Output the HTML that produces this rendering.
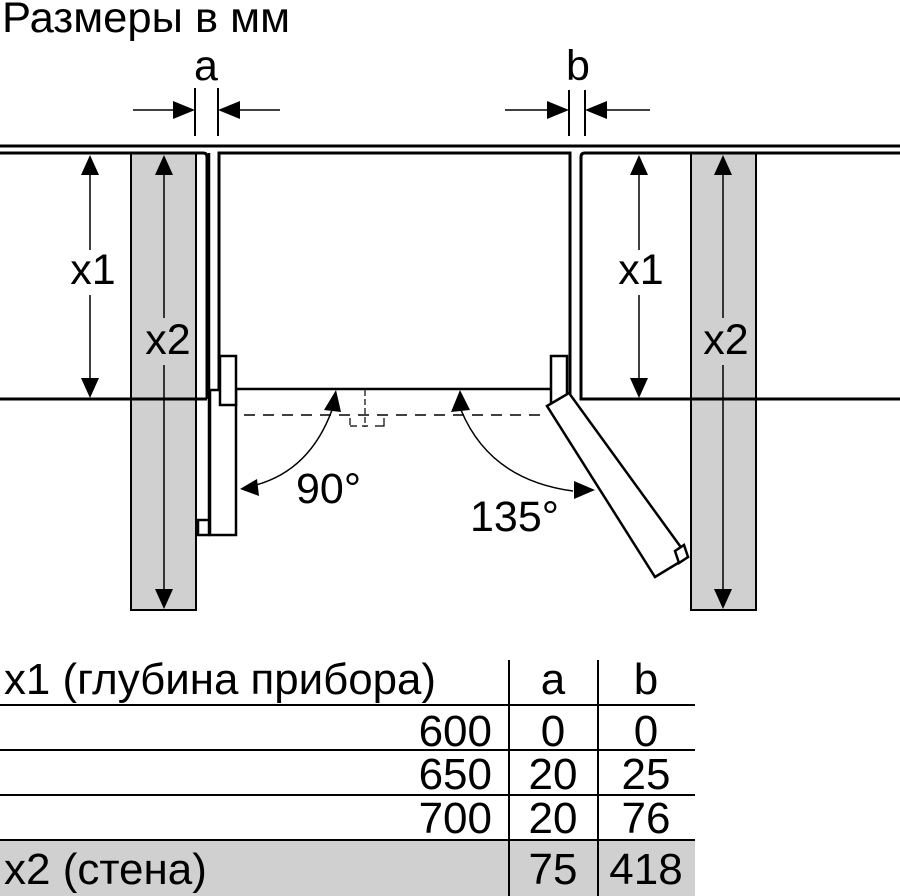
<!DOCTYPE html>
<html><head><meta charset="utf-8"><style>
html,body{margin:0;padding:0;background:#fff;}
svg{display:block;}
text{font-family:"Liberation Sans",Arial,sans-serif;fill:#000;}
</style></head><body>
<svg width="900" height="896" viewBox="0 0 900 896" xmlns="http://www.w3.org/2000/svg">
<text x="2" y="32" font-size="43" textLength="288" lengthAdjust="spacingAndGlyphs">Размеры в мм</text>
<text x="206" y="80" font-size="43" text-anchor="middle">a</text>
<text x="578" y="80" font-size="43" text-anchor="middle">b</text>

<g stroke="#000" stroke-width="2" fill="none">
<line x1="195" y1="88" x2="195" y2="136"/>
<line x1="218" y1="88" x2="218" y2="136"/>
<line x1="569" y1="90" x2="569" y2="136"/>
<line x1="585" y1="90" x2="585" y2="136"/>
</g>
<g stroke="#000" stroke-width="1.5">
<line x1="133" y1="110" x2="175" y2="110"/>
<line x1="238" y1="110" x2="280" y2="110"/>
<line x1="505" y1="110" x2="550" y2="110"/>
<line x1="605" y1="110" x2="650" y2="110"/>
</g>
<path d="M173,101 L195,110 L173,119z M218,110 L240,101 L240,119z M547,101 L569,110 L547,119z M585,110 L607,101 L607,119z" fill="#000"/>

<rect x="131" y="153" width="65" height="457" fill="#d0d0d0" stroke="#000" stroke-width="2"/>
<rect x="691" y="153" width="65" height="457" fill="#d0d0d0" stroke="#000" stroke-width="2"/>

<g stroke="#000" stroke-width="3" fill="none">
<line x1="0" y1="146" x2="900" y2="146"/>
<path d="M0,153 H203 Q207,153 207,157 V399"/>
<line x1="0" y1="399" x2="207" y2="399"/>
<path d="M219,399 V153 H570 V399"/>
<path d="M900,153 H585 Q581,153 581,157 V399 H900"/>
</g>
<g stroke="#000" stroke-width="1.5">
<line x1="90" y1="170" x2="90" y2="250"/><line x1="90" y1="295" x2="90" y2="380"/>
<line x1="164" y1="170" x2="164" y2="318"/><line x1="164" y1="365" x2="164" y2="592"/>
<line x1="639" y1="170" x2="639" y2="250"/><line x1="639" y1="295" x2="639" y2="380"/>
<line x1="723" y1="170" x2="723" y2="318"/><line x1="723" y1="365" x2="723" y2="592"/>
</g>
<path d="M90,155 L81,175 L99,175z M90,398 L81,378 L99,378z M164,155 L155,175 L173,175z M164,609 L155,589 L173,589z M639,155 L630,175 L648,175z M639,398 L630,378 L648,378z M723,155 L714,175 L732,175z M723,609 L714,589 L732,589z" fill="#000"/>
<text x="93" y="284" font-size="43" text-anchor="middle">x1</text>
<text x="168" y="354" font-size="43" text-anchor="middle">x2</text>
<text x="641" y="284" font-size="43" text-anchor="middle">x1</text>
<text x="726" y="354" font-size="43" text-anchor="middle">x2</text>

<g stroke="#000" stroke-width="2.5" fill="#fff">
<line x1="209" y1="153" x2="209" y2="520" fill="none"/>
<rect x="198" y="520" width="11" height="15"/>
<rect x="210" y="390" width="26" height="145"/>
<rect x="220" y="356" width="16" height="49"/>
<line x1="236" y1="389" x2="551" y2="389"/>
<rect x="551" y="356" width="16" height="48"/>
<polygon points="547,406 569,393 688,557 655,577"/>
<polygon points="675,551 684,545 688,557 679,563"/>
</g>
<line x1="244" y1="415" x2="548" y2="415" stroke="#000" stroke-width="1.5" stroke-dasharray="11,8"/>
<g stroke="#000" stroke-width="1.2" fill="none">
<line x1="365" y1="390" x2="365" y2="427" stroke-dasharray="6,3"/>
<path d="M350,425 V418 M350,426 H357 M375,426 H384 V418 M362,426 H368"/>
</g>
<g stroke="#000" stroke-width="1.5" fill="none">
<path d="M332,410 Q310,470 256,485"/>
<path d="M461,410 Q490,480 573,491"/>
</g>
<path d="M336,390 L324,410 L341,412z M240,489 L257,479 L259,496z M460,390 L451,412 L470,410z M595,490 L574,481 L574,499z" fill="#000"/>
<text x="296" y="503" font-size="43">90°</text>
<text x="470" y="531" font-size="43">135°</text>

<rect x="0" y="840" width="695" height="56" fill="#d0d0d0"/>
<g stroke="#000" stroke-width="2">
<line x1="0" y1="705" x2="695" y2="705"/>
<line x1="0" y1="750" x2="695" y2="750"/>
<line x1="0" y1="795" x2="695" y2="795"/>
<line x1="0" y1="840" x2="695" y2="840"/>
<line x1="509" y1="660" x2="509" y2="896"/>
<line x1="598" y1="660" x2="598" y2="896"/>
</g>
<g font-size="44">
<text x="4" y="694" textLength="432" lengthAdjust="spacingAndGlyphs">x1 (глубина прибора)</text>
<text x="492" y="746" text-anchor="end">600</text>
<text x="492" y="789" text-anchor="end">650</text>
<text x="492" y="833" text-anchor="end">700</text>
<text x="4" y="884">x2 (стена)</text>
<text x="553" y="694" text-anchor="middle">a</text>
<text x="646" y="694" text-anchor="middle">b</text>
<text x="553" y="746" text-anchor="middle">0</text>
<text x="646" y="746" text-anchor="middle">0</text>
<text x="553" y="789" text-anchor="middle">20</text>
<text x="646" y="789" text-anchor="middle">25</text>
<text x="553" y="833" text-anchor="middle">20</text>
<text x="646" y="833" text-anchor="middle">76</text>
<text x="553" y="884" text-anchor="middle">75</text>
<text x="646" y="884" text-anchor="middle">418</text>
</g>
</svg>
</body></html>
